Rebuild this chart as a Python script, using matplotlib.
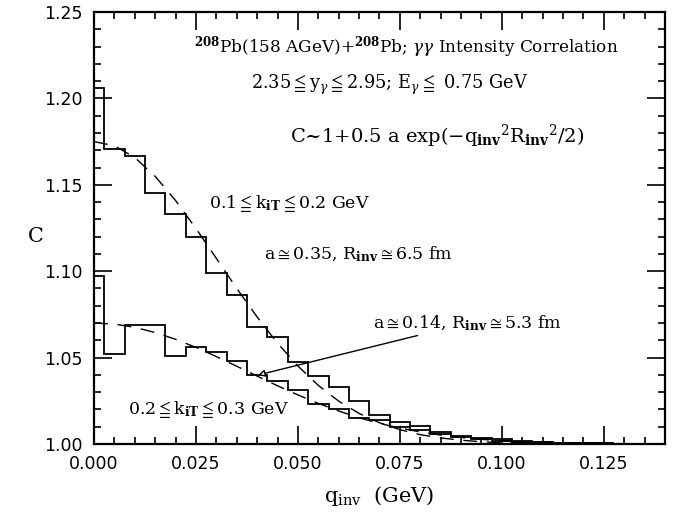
import matplotlib
matplotlib.use("Agg")
import matplotlib.pyplot as plt
import numpy as np
from matplotlib.ticker import MultipleLocator

# bin centres (GeV), bin width 0.005
q_bins = [0.000, 0.005, 0.010, 0.015, 0.020, 0.025, 0.030, 0.035, 0.040,
          0.045, 0.050, 0.055, 0.060, 0.065, 0.070, 0.075, 0.080, 0.085,
          0.090, 0.095, 0.100, 0.105, 0.110, 0.115, 0.120, 0.125]
bin_width = 0.005

# 0.1 <= k_iT <= 0.2 GeV
c_low_kt = [1.206, 1.1705, 1.1667, 1.1454, 1.133, 1.120, 1.0988, 1.0862,
            1.0679, 1.0621, 1.0476, 1.0395, 1.033, 1.0249, 1.017, 1.013,
            1.0105, 1.0071, 1.0048, 1.0033, 1.0027, 1.0013, 1.0010, 1.0008,
            1.0006, 1.0005]

# 0.2 <= k_iT <= 0.3 GeV
c_high_kt = [1.097, 1.052, 1.069, 1.069, 1.051, 1.056, 1.053, 1.048, 1.040,
             1.0366, 1.031, 1.023, 1.020, 1.015, 1.014, 1.010, 1.008, 1.0055,
             1.004, 1.003, 1.002, 1.0015, 1.0010, 1.0008, 1.0005, 1.0005]

# dashed fit curves
q_fit = [0.000, 0.005, 0.010, 0.015, 0.020, 0.025, 0.030, 0.035, 0.040,
         0.045, 0.050, 0.055, 0.060, 0.065, 0.070, 0.075, 0.080, 0.085,
         0.090, 0.095, 0.100, 0.110, 0.120, 0.130, 0.140]
fit_low_kt = [1.1750, 1.1726, 1.1658, 1.1549, 1.1409, 1.1247, 1.1074, 1.0900,
              1.0735, 1.0583, 1.0451, 1.0339, 1.0248, 1.0177, 1.0123, 1.0083,
              1.0054, 1.0035, 1.0022, 1.0013, 1.0008, 1.0002, 1.0001, 1.0000,
              1.0000]
fit_high_kt = [1.0700, 1.0694, 1.0675, 1.0645, 1.0606, 1.0559, 1.0506, 1.0450,
               1.0393, 1.0337, 1.0284, 1.0235, 1.0191, 1.0152, 1.0119, 1.0092,
               1.0070, 1.0052, 1.0038, 1.0027, 1.0019, 1.0009, 1.0004, 1.0002,
               1.0001]

plt.rcParams["font.family"] = ["DejaVu Serif", "DejaVu Sans"]
plt.rcParams["mathtext.fontset"] = "dejavuserif"

fig = plt.figure(figsize=(6.8, 5.16), dpi=100)
ax = fig.add_axes([94 / 680, 1 - 444 / 516, 571 / 680, 432 / 516])

centres = np.array(q_bins)
edges = np.concatenate([[0.0], centres + bin_width / 2])

ax.stairs(c_low_kt, edges, baseline=None, color="black", lw=1.3)
ax.stairs(c_high_kt, edges, baseline=None, color="black", lw=1.3)

dash = (0, (10, 7))
ax.plot(q_fit, fit_low_kt, color="black", lw=1.0, linestyle=dash)
ax.plot(q_fit, fit_high_kt, color="black", lw=1.0, linestyle=dash)

ax.set_xlim(0, 0.14)
ax.set_ylim(1.0, 1.25)
ax.xaxis.set_major_locator(MultipleLocator(0.025))
ax.xaxis.set_minor_locator(MultipleLocator(0.005))
ax.yaxis.set_major_locator(MultipleLocator(0.05))
ax.yaxis.set_minor_locator(MultipleLocator(0.01))
ax.xaxis.set_major_formatter(plt.FormatStrFormatter("%.3f"))
ax.yaxis.set_major_formatter(plt.FormatStrFormatter("%.2f"))
ax.tick_params(which="both", direction="in", top=True, right=True, width=1.2)
ax.tick_params(which="major", length=13, pad=8, labelsize=12.5)
ax.tick_params(which="minor", length=5)
for lab in ax.get_xticklabels() + ax.get_yticklabels():
    lab.set_family("DejaVu Sans")
for sp in ax.spines.values():
    sp.set_linewidth(1.6)

ax.set_xlabel(r"q$_{\rm inv}$  (GeV)", fontsize=15, labelpad=8)
ax.set_ylabel("C", fontsize=15, rotation=0, va="center", ha="center")
ax.yaxis.set_label_coords(-58 / 571, 207 / 432)

ax.text(0.0765, 1.230,
        r"$^{\bf 208}$Pb(158 AGeV)+$^{\bf 208}$Pb; $\gamma\gamma$ Intensity Correlation",
        ha="center", va="center", fontsize=12.2)
ax.text(0.0725, 1.208,
        r"2.35$\leqq$y$_\gamma$$\leqq$2.95; E$_\gamma$$\leqq$ 0.75 GeV",
        ha="center", va="center", fontsize=12.8)
ax.text(0.0842, 1.178,
        r"C~1+0.5 a exp($-$q$_{\bf inv}$$^2$R$_{\bf inv}$$^2$/2)",
        ha="center", va="center", fontsize=14)
ax.text(0.048, 1.139, r"0.1$\leqq$k$_{\bf iT}$$\leqq$0.2 GeV",
        ha="center", va="center", fontsize=12.5)
ax.text(0.0648, 1.1095, r"a$\cong$0.35, R$_{\bf inv}$$\cong$6.5 fm",
        ha="center", va="center", fontsize=12.5)
ax.text(0.0282, 1.0197, r"0.2$\leqq$k$_{\bf iT}$$\leqq$0.3 GeV",
        ha="center", va="center", fontsize=12.5)
ax.annotate(r"a$\cong$0.14, R$_{\bf inv}$$\cong$5.3 fm",
            xy=(0.0402, 1.0399), xytext=(0.0685, 1.0700),
            ha="left", va="center", fontsize=12.5,
            arrowprops=dict(arrowstyle="-|>", fc="white", ec="black",
                            lw=1.0, mutation_scale=10, shrinkA=0, shrinkB=0))

fig.savefig("out.png", dpi=100)
